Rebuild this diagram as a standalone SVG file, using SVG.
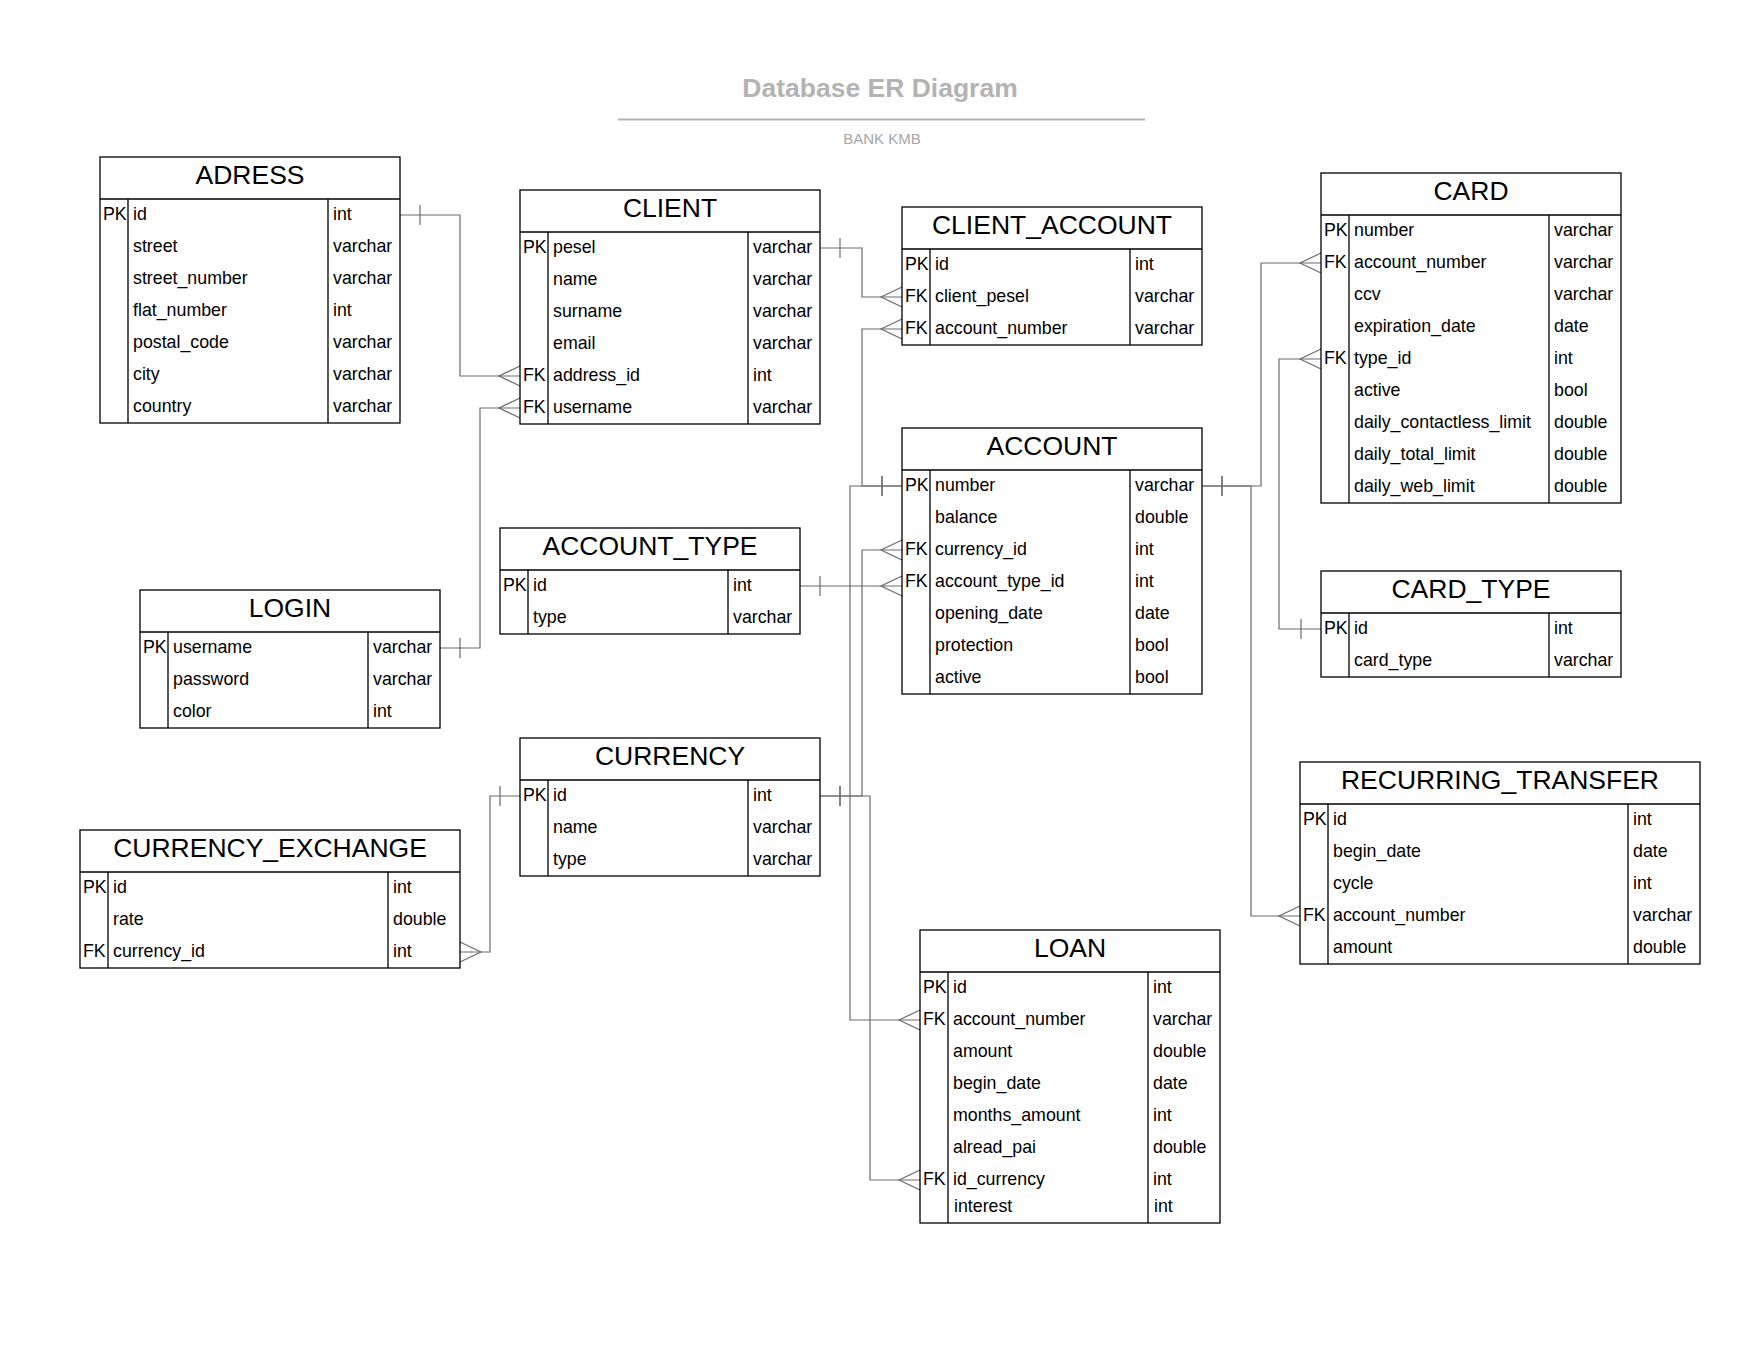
<svg xmlns="http://www.w3.org/2000/svg" width="1760" height="1360" viewBox="0 0 1760 1360">
<style>
.bg{fill:#ffffff}
.box{fill:#ffffff;stroke:#000000;stroke-width:1.3}
.ln{stroke:#000000;stroke-width:1.3;fill:none}
.hdr{font-family:"Liberation Sans",Arial,sans-serif;font-size:26.5px;fill:#000000;text-anchor:middle}
.f{font-family:"Liberation Sans",Arial,sans-serif;font-size:17.8px;fill:#000000}
.conn{stroke:#6b6b6b;stroke-width:1.2;fill:none;marker-start:url(#one);marker-end:url(#many)}
.title{font-family:"Liberation Sans",Arial,sans-serif;font-size:26.5px;font-weight:bold;fill:#b3b3b3;text-anchor:middle}
.sub{font-family:"Liberation Sans",Arial,sans-serif;font-size:15px;fill:#a6a6a6;text-anchor:middle}
</style>
<defs>
<marker id="one" markerUnits="userSpaceOnUse" markerWidth="40" markerHeight="40" refX="0" refY="0" orient="auto" overflow="visible"><path d="M20,-10V10" stroke="#6b6b6b" stroke-width="1.2" fill="none"/></marker>
<marker id="many" markerUnits="userSpaceOnUse" markerWidth="40" markerHeight="40" refX="0" refY="0" orient="auto" overflow="visible"><path d="M0,-10L-21,0L0,10" stroke="#6b6b6b" stroke-width="1.2" fill="none"/></marker>
</defs>
<rect class="bg" x="0" y="0" width="1760" height="1360"/>
<g id="title">
<text class="title" x="880" y="97">Database ER Diagram</text>
<line x1="618" y1="119.5" x2="1145" y2="119.5" stroke="#b3b3b3" stroke-width="2"/>
<text class="sub" x="882" y="144">BANK KMB</text>
</g>
<g id="connectors">
<path class="conn" d="M400,215 H460 V376 H520"/>
<path class="conn" d="M440,648 H480 V408 H520"/>
<path class="conn" d="M820,248 H862 V297 H902"/>
<path class="conn" d="M902,486 H862 V329 H902"/>
<path class="conn" d="M902,486 H850 V1020 H920"/>
<path class="conn" d="M1202,486 H1261 V263 H1321"/>
<path class="conn" d="M1202,486 H1251 V916 H1300"/>
<path class="conn" d="M1321,629 H1279 V359 H1321"/>
<path class="conn" d="M800,586 H902"/>
<path class="conn" d="M820,796 H862 V550 H902"/>
<path class="conn" d="M820,796 H870 V1180 H920"/>
<path class="conn" d="M520,796 H490 V952 H460"/>
</g>
<g id="ADRESS">
<rect class="box" x="100" y="157" width="300" height="266"/>
<path class="ln" d="M100,199H400M128,199V423M328,199V423"/>
<text class="hdr" x="250" y="184">ADRESS</text>
<text class="f" x="103" y="219.7">PK</text><text class="f" x="133" y="219.7">id</text><text class="f" x="333" y="219.7">int</text>
<text class="f" x="133" y="251.7">street</text><text class="f" x="333" y="251.7">varchar</text>
<text class="f" x="133" y="283.7">street_number</text><text class="f" x="333" y="283.7">varchar</text>
<text class="f" x="133" y="315.7">flat_number</text><text class="f" x="333" y="315.7">int</text>
<text class="f" x="133" y="347.7">postal_code</text><text class="f" x="333" y="347.7">varchar</text>
<text class="f" x="133" y="379.7">city</text><text class="f" x="333" y="379.7">varchar</text>
<text class="f" x="133" y="411.7">country</text><text class="f" x="333" y="411.7">varchar</text>
</g>
<g id="CLIENT">
<rect class="box" x="520" y="190" width="300" height="234"/>
<path class="ln" d="M520,232H820M548,232V424M748,232V424"/>
<text class="hdr" x="670" y="217">CLIENT</text>
<text class="f" x="523" y="252.7">PK</text><text class="f" x="553" y="252.7">pesel</text><text class="f" x="753" y="252.7">varchar</text>
<text class="f" x="553" y="284.7">name</text><text class="f" x="753" y="284.7">varchar</text>
<text class="f" x="553" y="316.7">surname</text><text class="f" x="753" y="316.7">varchar</text>
<text class="f" x="553" y="348.7">email</text><text class="f" x="753" y="348.7">varchar</text>
<text class="f" x="523" y="380.7">FK</text><text class="f" x="553" y="380.7">address_id</text><text class="f" x="753" y="380.7">int</text>
<text class="f" x="523" y="412.7">FK</text><text class="f" x="553" y="412.7">username</text><text class="f" x="753" y="412.7">varchar</text>
</g>
<g id="CLIENT_ACCOUNT">
<rect class="box" x="902" y="207" width="300" height="138"/>
<path class="ln" d="M902,249H1202M930,249V345M1130,249V345"/>
<text class="hdr" x="1052" y="234">CLIENT_ACCOUNT</text>
<text class="f" x="905" y="269.7">PK</text><text class="f" x="935" y="269.7">id</text><text class="f" x="1135" y="269.7">int</text>
<text class="f" x="905" y="301.7">FK</text><text class="f" x="935" y="301.7">client_pesel</text><text class="f" x="1135" y="301.7">varchar</text>
<text class="f" x="905" y="333.7">FK</text><text class="f" x="935" y="333.7">account_number</text><text class="f" x="1135" y="333.7">varchar</text>
</g>
<g id="ACCOUNT">
<rect class="box" x="902" y="428" width="300" height="266"/>
<path class="ln" d="M902,470H1202M930,470V694M1130,470V694"/>
<text class="hdr" x="1052" y="455">ACCOUNT</text>
<text class="f" x="905" y="490.7">PK</text><text class="f" x="935" y="490.7">number</text><text class="f" x="1135" y="490.7">varchar</text>
<text class="f" x="935" y="522.7">balance</text><text class="f" x="1135" y="522.7">double</text>
<text class="f" x="905" y="554.7">FK</text><text class="f" x="935" y="554.7">currency_id</text><text class="f" x="1135" y="554.7">int</text>
<text class="f" x="905" y="586.7">FK</text><text class="f" x="935" y="586.7">account_type_id</text><text class="f" x="1135" y="586.7">int</text>
<text class="f" x="935" y="618.7">opening_date</text><text class="f" x="1135" y="618.7">date</text>
<text class="f" x="935" y="650.7">protection</text><text class="f" x="1135" y="650.7">bool</text>
<text class="f" x="935" y="682.7">active</text><text class="f" x="1135" y="682.7">bool</text>
</g>
<g id="CARD">
<rect class="box" x="1321" y="173" width="300" height="330"/>
<path class="ln" d="M1321,215H1621M1349,215V503M1549,215V503"/>
<text class="hdr" x="1471" y="200">CARD</text>
<text class="f" x="1324" y="235.7">PK</text><text class="f" x="1354" y="235.7">number</text><text class="f" x="1554" y="235.7">varchar</text>
<text class="f" x="1324" y="267.7">FK</text><text class="f" x="1354" y="267.7">account_number</text><text class="f" x="1554" y="267.7">varchar</text>
<text class="f" x="1354" y="299.7">ccv</text><text class="f" x="1554" y="299.7">varchar</text>
<text class="f" x="1354" y="331.7">expiration_date</text><text class="f" x="1554" y="331.7">date</text>
<text class="f" x="1324" y="363.7">FK</text><text class="f" x="1354" y="363.7">type_id</text><text class="f" x="1554" y="363.7">int</text>
<text class="f" x="1354" y="395.7">active</text><text class="f" x="1554" y="395.7">bool</text>
<text class="f" x="1354" y="427.7">daily_contactless_limit</text><text class="f" x="1554" y="427.7">double</text>
<text class="f" x="1354" y="459.7">daily_total_limit</text><text class="f" x="1554" y="459.7">double</text>
<text class="f" x="1354" y="491.7">daily_web_limit</text><text class="f" x="1554" y="491.7">double</text>
</g>
<g id="CARD_TYPE">
<rect class="box" x="1321" y="571" width="300" height="106"/>
<path class="ln" d="M1321,613H1621M1349,613V677M1549,613V677"/>
<text class="hdr" x="1471" y="598">CARD_TYPE</text>
<text class="f" x="1324" y="633.7">PK</text><text class="f" x="1354" y="633.7">id</text><text class="f" x="1554" y="633.7">int</text>
<text class="f" x="1354" y="665.7">card_type</text><text class="f" x="1554" y="665.7">varchar</text>
</g>
<g id="ACCOUNT_TYPE">
<rect class="box" x="500" y="528" width="300" height="106"/>
<path class="ln" d="M500,570H800M528,570V634M728,570V634"/>
<text class="hdr" x="650" y="555">ACCOUNT_TYPE</text>
<text class="f" x="503" y="590.7">PK</text><text class="f" x="533" y="590.7">id</text><text class="f" x="733" y="590.7">int</text>
<text class="f" x="533" y="622.7">type</text><text class="f" x="733" y="622.7">varchar</text>
</g>
<g id="LOGIN">
<rect class="box" x="140" y="590" width="300" height="138"/>
<path class="ln" d="M140,632H440M168,632V728M368,632V728"/>
<text class="hdr" x="290" y="617">LOGIN</text>
<text class="f" x="143" y="652.7">PK</text><text class="f" x="173" y="652.7">username</text><text class="f" x="373" y="652.7">varchar</text>
<text class="f" x="173" y="684.7">password</text><text class="f" x="373" y="684.7">varchar</text>
<text class="f" x="173" y="716.7">color</text><text class="f" x="373" y="716.7">int</text>
</g>
<g id="CURRENCY">
<rect class="box" x="520" y="738" width="300" height="138"/>
<path class="ln" d="M520,780H820M548,780V876M748,780V876"/>
<text class="hdr" x="670" y="765">CURRENCY</text>
<text class="f" x="523" y="800.7">PK</text><text class="f" x="553" y="800.7">id</text><text class="f" x="753" y="800.7">int</text>
<text class="f" x="553" y="832.7">name</text><text class="f" x="753" y="832.7">varchar</text>
<text class="f" x="553" y="864.7">type</text><text class="f" x="753" y="864.7">varchar</text>
</g>
<g id="CURRENCY_EXCHANGE">
<rect class="box" x="80" y="830" width="380" height="138"/>
<path class="ln" d="M80,872H460M108,872V968M388,872V968"/>
<text class="hdr" x="270" y="857">CURRENCY_EXCHANGE</text>
<text class="f" x="83" y="892.7">PK</text><text class="f" x="113" y="892.7">id</text><text class="f" x="393" y="892.7">int</text>
<text class="f" x="113" y="924.7">rate</text><text class="f" x="393" y="924.7">double</text>
<text class="f" x="83" y="956.7">FK</text><text class="f" x="113" y="956.7">currency_id</text><text class="f" x="393" y="956.7">int</text>
</g>
<g id="RECURRING_TRANSFER">
<rect class="box" x="1300" y="762" width="400" height="202"/>
<path class="ln" d="M1300,804H1700M1328,804V964M1628,804V964"/>
<text class="hdr" x="1500" y="789">RECURRING_TRANSFER</text>
<text class="f" x="1303" y="824.7">PK</text><text class="f" x="1333" y="824.7">id</text><text class="f" x="1633" y="824.7">int</text>
<text class="f" x="1333" y="856.7">begin_date</text><text class="f" x="1633" y="856.7">date</text>
<text class="f" x="1333" y="888.7">cycle</text><text class="f" x="1633" y="888.7">int</text>
<text class="f" x="1303" y="920.7">FK</text><text class="f" x="1333" y="920.7">account_number</text><text class="f" x="1633" y="920.7">varchar</text>
<text class="f" x="1333" y="952.7">amount</text><text class="f" x="1633" y="952.7">double</text>
</g>
<g id="LOAN">
<rect class="box" x="920" y="930" width="300" height="293"/>
<path class="ln" d="M920,972H1220M948,972V1223M1148,972V1223"/>
<text class="hdr" x="1070" y="957">LOAN</text>
<text class="f" x="923" y="992.7">PK</text><text class="f" x="953" y="992.7">id</text><text class="f" x="1153" y="992.7">int</text>
<text class="f" x="923" y="1024.7">FK</text><text class="f" x="953" y="1024.7">account_number</text><text class="f" x="1153" y="1024.7">varchar</text>
<text class="f" x="953" y="1056.7">amount</text><text class="f" x="1153" y="1056.7">double</text>
<text class="f" x="953" y="1088.7">begin_date</text><text class="f" x="1153" y="1088.7">date</text>
<text class="f" x="953" y="1120.7">months_amount</text><text class="f" x="1153" y="1120.7">int</text>
<text class="f" x="953" y="1152.7">alread_pai</text><text class="f" x="1153" y="1152.7">double</text>
<text class="f" x="923" y="1184.7">FK</text><text class="f" x="953" y="1184.7">id_currency</text><text class="f" x="1153" y="1184.7">int</text>
<text class="f" x="954" y="1212">interest</text><text class="f" x="1154" y="1212">int</text>
</g>
</svg>
